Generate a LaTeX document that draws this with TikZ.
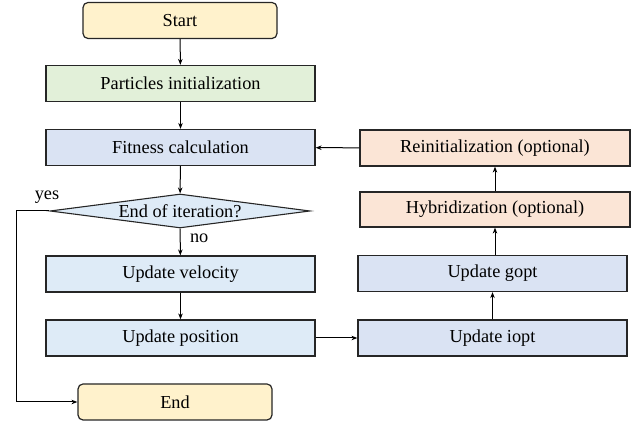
\documentclass[tikz,border=0pt]{standalone}
\usepackage{fontspec}
\setmainfont{Liberation Serif}
\usepackage{xcolor}
\usetikzlibrary{shapes,arrows,positioning,calc,arrows.meta}

\definecolor{termfill}{HTML}{FFF2CC}
\definecolor{initfill}{HTML}{E2F0D9}
\definecolor{calcfill}{HTML}{DAE3F3}
\definecolor{updfill}{HTML}{DEEBF7}
\definecolor{optfill}{HTML}{FBE5D6}
\definecolor{edge}{HTML}{262626}

\begin{document}
\begin{tikzpicture}[x=1pt, y=1pt, font=\fontsize{18.3}{22}\selectfont,
    box/.style={draw=edge, line width=1.2pt, minimum width=269pt, minimum height=36pt, inner sep=0pt},
    term/.style={box, rounded corners=5pt, fill=termfill, minimum width=194pt},
    decision/.style={draw=edge, line width=1.1pt, diamond, aspect=7.6, inner sep=0pt, minimum width=260pt, minimum height=34pt, fill=updfill},
    line/.style={draw=black, line width=1pt, -{Stealth[length=6pt,width=4.5pt]}}]
    \useasboundingbox (0,0) rectangle (643,430);

    % Main column
    \node[term] (Start) at (180,409.5) {Start};
    \node[box, fill=initfill] (Init) at (180.5,346.5) {Particles initialization};
    \node[box, fill=calcfill] (Fit) at (180.5,282.5) {Fitness calculation};
    \node[decision] (Iter) at (180,219) {End of iteration?};
    \node[box, fill=updfill] (Vel) at (180.5,156) {Update velocity};
    \node[box, fill=updfill] (Pos) at (180.5,92) {Update position};
    \node[term] (End) at (175,28) {End};

    % Right column
    \node[box, fill=calcfill] (Iopt) at (492.5,92) {Update iopt};
    \node[box, fill=calcfill] (Gopt) at (492.5,156.5) {Update gopt};
    \node[box, fill=optfill, minimum width=270pt, minimum height=35pt] (Hyb) at (495,220.5) {Hybridization (optional)};
    \node[box, fill=optfill, minimum width=270pt] (Reinit) at (495,282) {Reinitialization (optional)};

    % Connectors
    \draw[line] (Start) -- (Init);
    \draw[line] (Init) -- (Fit);
    \draw[line] (Fit) -- (Iter);
    \draw[line] (Iter) -- node[right, pos=0.35, xshift=6pt] {no} (Vel);
    \draw[line] (Vel) -- (Pos);
    \draw[line] (Pos) -- (Iopt);
    \draw[line] (Iopt) -- (Gopt);
    \draw[line] (Gopt.north -| Hyb.south) -- (Hyb);
    \draw[line] (Hyb) -- (Reinit);
    \draw[line] (Reinit) -- (Fit);

    % Exit branch
    \coordinate (Turn) at (16,219);
    \draw[line] (Iter.west) -- (Turn) |- (End.west);
    \node (Yes) at (47,233) {yes};
\end{tikzpicture}
\end{document}
